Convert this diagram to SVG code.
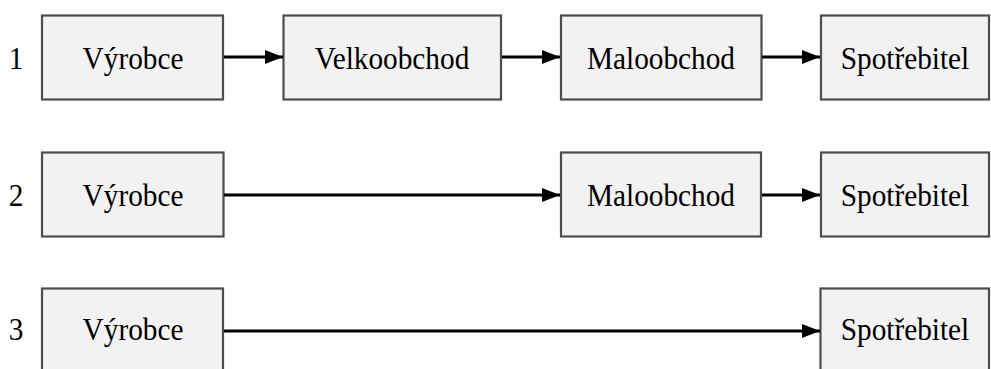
<svg xmlns="http://www.w3.org/2000/svg" width="991" height="369" viewBox="0 0 991 369">
<style>
.box{fill:#f2f2f2;stroke:#4d4d4d;stroke-width:2.2}
.t{font-family:"Liberation Serif","Times New Roman",serif;font-size:29.3px;fill:#000;text-anchor:middle}
.c{stroke:#000;stroke-width:2.8;fill:none;marker-end:url(#ah)}
</style>
<defs>
<marker id="ah" markerUnits="userSpaceOnUse" markerWidth="19" markerHeight="15" refX="18" refY="7.5" orient="auto">
<path d="M0,0.5 L18,7.5 L0,14.5 Z" fill="#000"/>
</marker>
</defs>
<rect width="991" height="369" fill="#fff"/>
<g id="labels">
<text class="t" transform="translate(16,69) scale(1,1.07)">1</text>
<text class="t" transform="translate(16,206) scale(1,1.07)">2</text>
<text class="t" transform="translate(16,340) scale(1,1.07)">3</text>
</g>
<g id="r1-vyrobce"><rect class="box" x="42" y="15.5" width="181" height="84"/><text class="t" transform="translate(133,69) scale(1,1.07)">Výrobce</text></g>
<g id="r1-velkoobchod"><rect class="box" x="283.5" y="15.5" width="217.5" height="84"/><text class="t" transform="translate(392,69) scale(1,1.07)">Velkoobchod</text></g>
<g id="r1-maloobchod"><rect class="box" x="561" y="15.5" width="200.5" height="84"/><text class="t" transform="translate(661,69) scale(1,1.07)">Maloobchod</text></g>
<g id="r1-spotrebitel"><rect class="box" x="821" y="15.5" width="168" height="84"/><text class="t" transform="translate(905,69) scale(1,1.07)">Spotřebitel</text></g>
<g id="r2-vyrobce"><rect class="box" x="42" y="152.5" width="181.5" height="84"/><text class="t" transform="translate(133,206) scale(1,1.07)">Výrobce</text></g>
<g id="r2-maloobchod"><rect class="box" x="561" y="152.5" width="200" height="84"/><text class="t" transform="translate(661,206) scale(1,1.07)">Maloobchod</text></g>
<g id="r2-spotrebitel"><rect class="box" x="821" y="152.5" width="168" height="84"/><text class="t" transform="translate(905,206) scale(1,1.07)">Spotřebitel</text></g>
<g id="r3-vyrobce"><rect class="box" x="42" y="288.5" width="181" height="100"/><text class="t" transform="translate(133,340) scale(1,1.07)">Výrobce</text></g>
<g id="r3-spotrebitel"><rect class="box" x="820.5" y="288.5" width="168.5" height="100"/><text class="t" transform="translate(905,340) scale(1,1.07)">Spotřebitel</text></g>
<g id="connectors">
<line class="c" x1="224" y1="57" x2="283" y2="57"/>
<line class="c" x1="502" y1="57" x2="560" y2="57"/>
<line class="c" x1="762" y1="57" x2="820" y2="57"/>
<line class="c" x1="224" y1="195" x2="560" y2="195"/>
<line class="c" x1="762" y1="195" x2="820" y2="195"/>
<line class="c" x1="224" y1="331" x2="820" y2="331"/>
</g>
</svg>
